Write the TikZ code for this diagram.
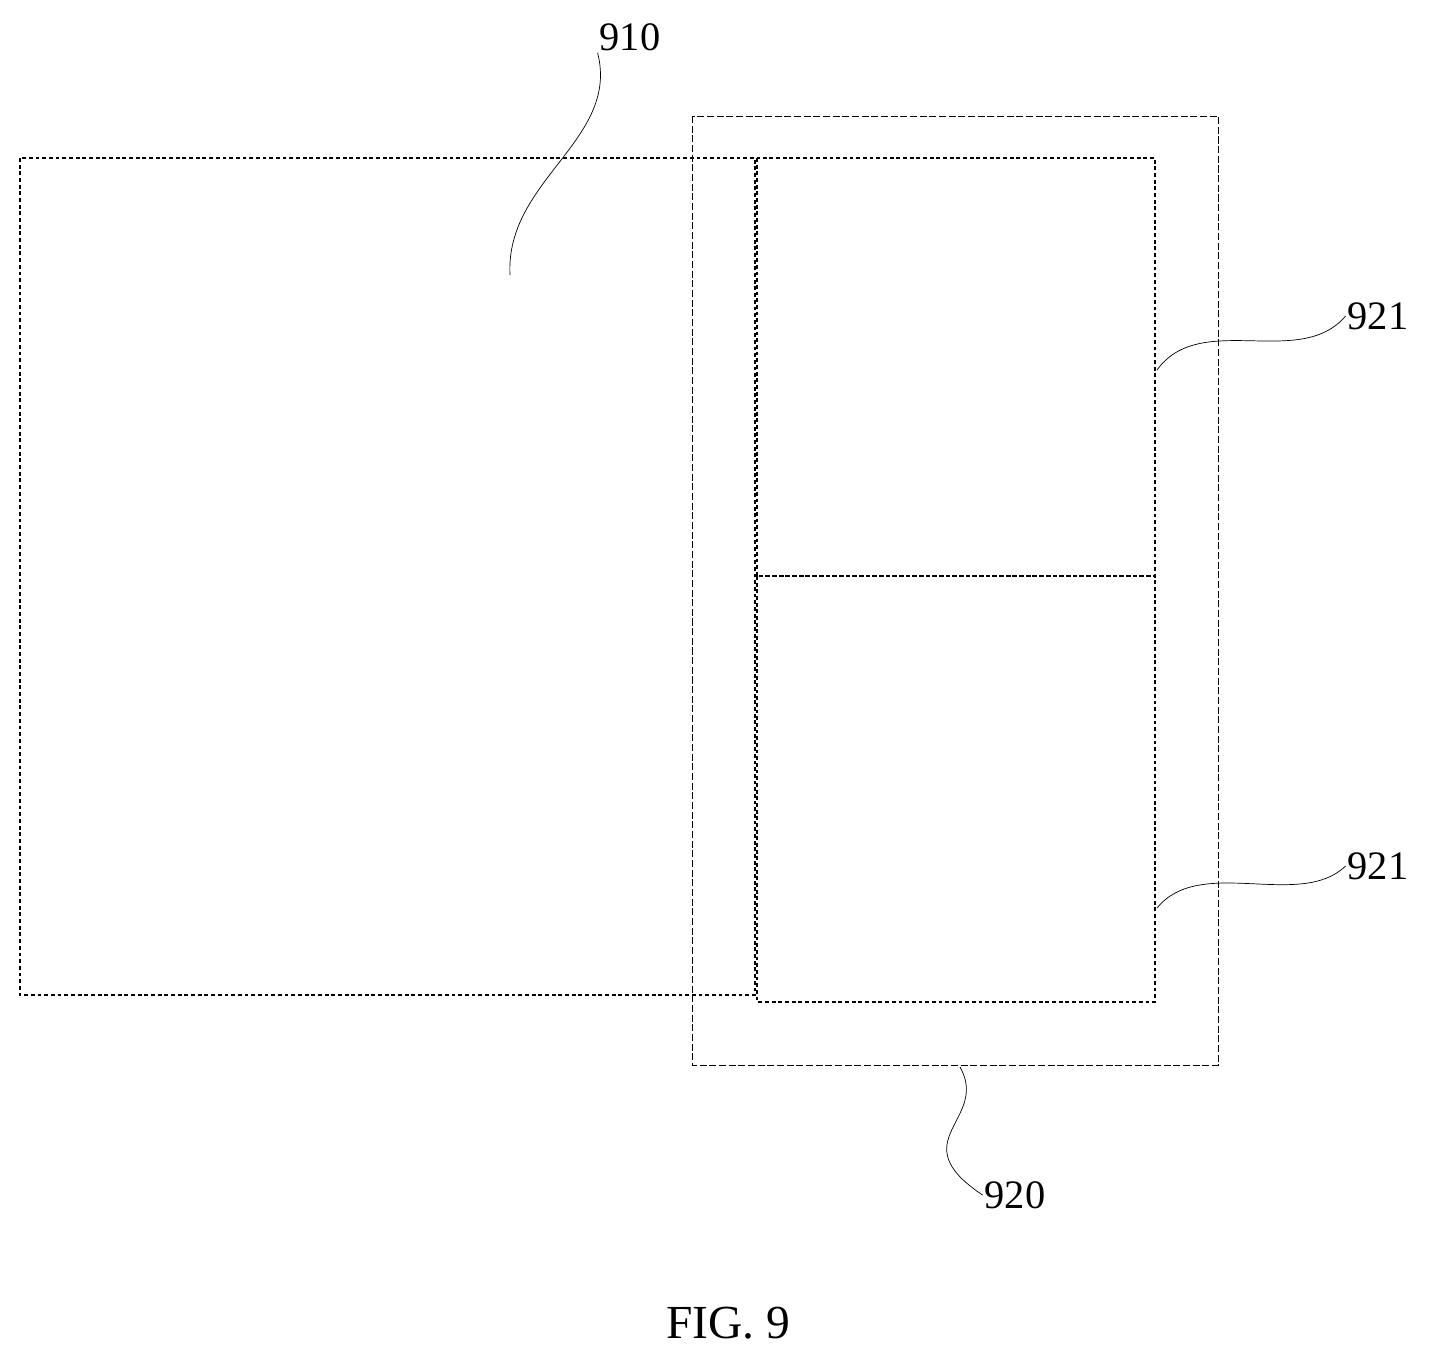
\documentclass[tikz,border=0pt]{standalone}
\usepackage{fontspec}
\setmainfont{Liberation Serif}
\usepackage{tikz}
\usetikzlibrary{positioning}

\begin{document}
\begin{tikzpicture}[
            x=0.02cm,y=-0.02cm,
            panel/.style={draw,thick,dash pattern=on 2.2pt off 1.6pt},
            frame/.style={draw,thin,dash pattern=on 4pt off 1.5pt},
            lab/.style={font=\fontsize{23}{25}\selectfont,inner sep=1pt},
            lead/.style={draw,thin}
          ]
          \useasboundingbox (0,0) rectangle (1429,1359);
          %panels
          \draw[frame] (692,116) rectangle (1218,1065);
          \draw[panel] (20,158) rectangle (755,995);
          \draw[panel] (757,158) rectangle (1155,576);
          \draw[panel] (757,576) rectangle (1155,1002);

          %labels
          \node[lab] (l910) at (630,37) {910};
          \node[lab] (l921a) at (1378,316) {921};
          \node[lab] (l921b) at (1378,866) {921};
          \node[lab] (l920) at (1015,1195) {920};
          \node[lab,font=\fontsize{27}{30}\selectfont] (fig) at (728,1323) {FIG.\ 9};

          %leaders
          \coordinate (p910) at (510,275);
          \coordinate (p921a) at (1157,370);
          \coordinate (p921b) at (1157,908);
          \coordinate (p920) at (960,1067);
          \path[lead] (p910) .. controls (505,180) and (620,140) .. (l910.south west);
          \path[lead] (p921a) .. controls (1200,310) and (1300,370) .. (l921a.west);
          \path[lead] (p921b) .. controls (1200,855) and (1300,910) .. (l921b.west);
          \path[lead] (p920) .. controls (990,1120) and (900,1140) .. (l920.west);
      \end{tikzpicture}
\end{document}
